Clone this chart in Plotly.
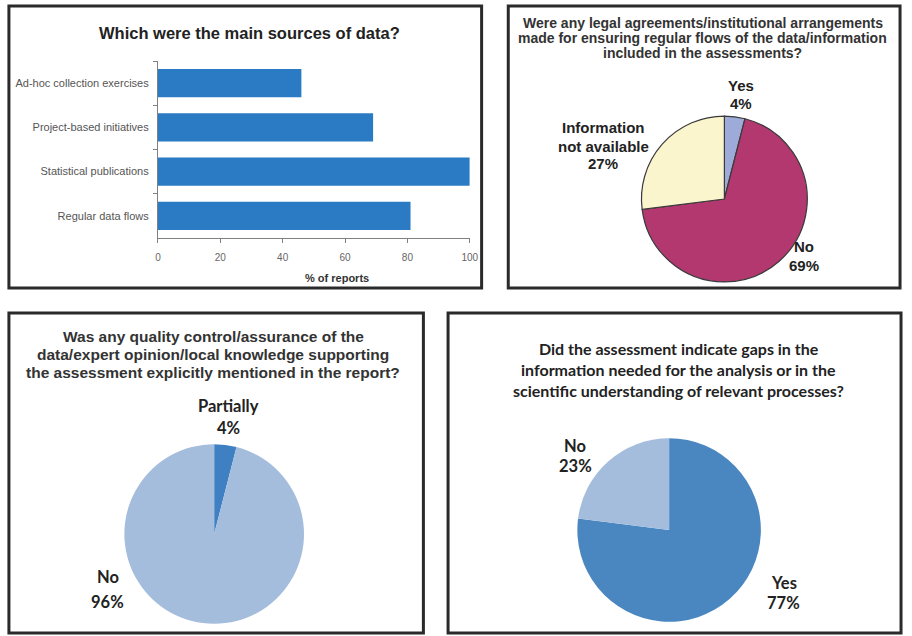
import plotly.graph_objects as go

W, H = 912, 636

# ---------------- data ----------------
bar_title = "Which were the main sources of data?"
bar_categories = ["Ad-hoc collection exercises", "Project-based initiatives",
                  "Statistical publications", "Regular data flows"]
bar_values = [46, 69, 100, 81]
bar_ticks = [0, 20, 40, 60, 80, 100]
bar_xtitle = "% of reports"

legal_title = ["Were any legal agreements/institutional arrangements",
               "made for ensuring regular flows of the data/information",
               "included in the assessments?"]
legal_labels = ["Yes", "No", "Information not available"]
legal_values = [4, 69, 27]
legal_colors = ["#9eaad8", "#b3386f", "#fbf5cd"]

quality_title = ["Was any quality control/assurance of the",
                 "data/expert opinion/local knowledge supporting",
                 "the assessment explicitly mentioned in the report?"]
quality_labels = ["Partially", "No"]
quality_values = [4, 96]
quality_colors = ["#3f80c2", "#a4bddd"]

gaps_title = ["Did the assessment indicate gaps in the",
              "information needed for the analysis or in the",
              "scientific understanding of relevant processes?"]
gaps_labels = ["Yes", "No"]
gaps_values = [77, 23]
gaps_colors = ["#4a87c1", "#a4bddd"]


def px(x):
    return x / W


def py(y):
    return 1 - y / H


ARIAL = "Liberation Sans, Arial, sans-serif"
CALIBRI = "Lato, Carlito, Calibri, sans-serif"

fig = go.Figure()

# ---------------- bar chart ----------------
fig.add_trace(go.Bar(
    x=bar_values, y=bar_categories, orientation="h",
    marker=dict(color="#2a7bc3", line=dict(width=0)),
    xaxis="x", yaxis="y", showlegend=False, hoverinfo="x+y",
))

# ---------------- pies ----------------
def pie_domain(cx, cy, r):
    return dict(x=[px(cx - r), px(cx + r)], y=[py(cy + r), py(cy - r)])


fig.add_trace(go.Pie(
    labels=legal_labels, values=legal_values, sort=False,
    direction="clockwise", rotation=0, textinfo="none",
    marker=dict(colors=legal_colors, line=dict(color="#3a3a3a", width=1.2)),
    domain=pie_domain(731, 199, 84), showlegend=False,
))
fig.add_trace(go.Pie(
    labels=quality_labels, values=quality_values, sort=False,
    direction="clockwise", rotation=0, textinfo="none",
    marker=dict(colors=quality_colors, line=dict(width=0)),
    domain=pie_domain(214, 534, 91), showlegend=False,
))
fig.add_trace(go.Pie(
    labels=gaps_labels, values=gaps_values, sort=False,
    direction="clockwise", rotation=0, textinfo="none",
    marker=dict(colors=gaps_colors, line=dict(width=0)),
    domain=pie_domain(675, 530, 93), showlegend=False,
))

annotations = []


def text(x, y, s, size, family, color="#222", bold=True):
    annotations.append(dict(
        x=px(x), y=py(y), xref="paper", yref="paper",
        text=f"<b>{s}</b>" if bold else s, showarrow=False,
        xanchor="center", yanchor="middle",
        font=dict(size=size, family=family, color=color),
    ))


# titles
text(250, 33, bar_title, 16.5, ARIAL, "#222")
for i, line in enumerate(legal_title):
    text(709, 23 + 15 * i, line, 14, ARIAL, "#333")
for i, line in enumerate(quality_title):
    text(213, 336 + 18 * i, line, 15.5, ARIAL, "#333")
for i, line in enumerate(gaps_title):
    text(685, 348 + 21 * i, line, 16, CALIBRI, "#222")

# axis title
text(338, 278, bar_xtitle, 11, ARIAL, "#333")

# pie labels – panel 2
text(748, 85, legal_labels[0], 15, ARIAL)
text(748, 103, f"{legal_values[0]}%", 15, ARIAL)
text(812, 247, legal_labels[1], 15, ARIAL)
text(812, 265, f"{legal_values[1]}%", 15, ARIAL)
info_words = legal_labels[2].split(" ", 1)
text(608, 128, info_words[0], 15, ARIAL)
text(608, 146, info_words[1], 15, ARIAL)
text(608, 164, f"{legal_values[2]}%", 15, ARIAL)

# pie labels – panel 3
text(228, 406, quality_labels[0], 16.5, CALIBRI)
text(228, 428, f"{quality_values[0]}%", 16.5, CALIBRI)
text(106, 577, quality_labels[1], 16.5, CALIBRI)
text(106, 602, f"{quality_values[1]}%", 16.5, CALIBRI)

# pie labels – panel 4
text(580, 446, gaps_labels[1], 16.5, CALIBRI)
text(580, 466, f"{gaps_values[1]}%", 16.5, CALIBRI)
text(791, 583, gaps_labels[0], 16.5, CALIBRI)
text(791, 603, f"{gaps_values[0]}%", 16.5, CALIBRI)

# panel borders
shapes = []
for (x0, y0, x1, y1) in [(6, 6, 485, 288), (512, 6, 909, 288),
                         (6, 313, 426, 633), (451, 313, 910, 633)]:
    shapes.append(dict(type="rect", xref="paper", yref="paper",
                       x0=px(x0), x1=px(x1), y0=py(y1), y1=py(y0),
                       line=dict(color="#2a2a2a", width=3),
                       fillcolor="rgba(0,0,0,0)", layer="above"))

fig.update_layout(
    width=W, height=H, autosize=False,
    margin=dict(l=0, r=0, t=0, b=0),
    paper_bgcolor="white", plot_bgcolor="white",
    showlegend=False,
    bargap=0.36,
    xaxis=dict(domain=[px(157), px(473)], range=[0, 100],
               tickvals=bar_ticks, showgrid=False, zeroline=False,
               showline=True, linecolor="#808080", linewidth=1,
               ticks="outside", ticklen=4, tickcolor="#808080",
               tickfont=dict(size=10, family=ARIAL, color="#666"),
               ticklabelstandoff=6, anchor="y", fixedrange=True),
    yaxis=dict(domain=[py(238), py(61)], autorange="reversed",
               type="category", showgrid=False, zeroline=False,
               showline=True, linecolor="#808080", linewidth=1,
               ticks="outside", ticklen=4, tickcolor="#808080",
               tickson="boundaries",
               tickfont=dict(size=11, family=ARIAL, color="#555"),
               ticklabelstandoff=6, anchor="x", fixedrange=True),
    annotations=annotations,
    shapes=shapes,
)

fig.write_html("out.html",
               config={"displayModeBar": False, "responsive": False},
               post_script="document.body.style.margin='0';"
                           "document.body.style.overflow='hidden';")
